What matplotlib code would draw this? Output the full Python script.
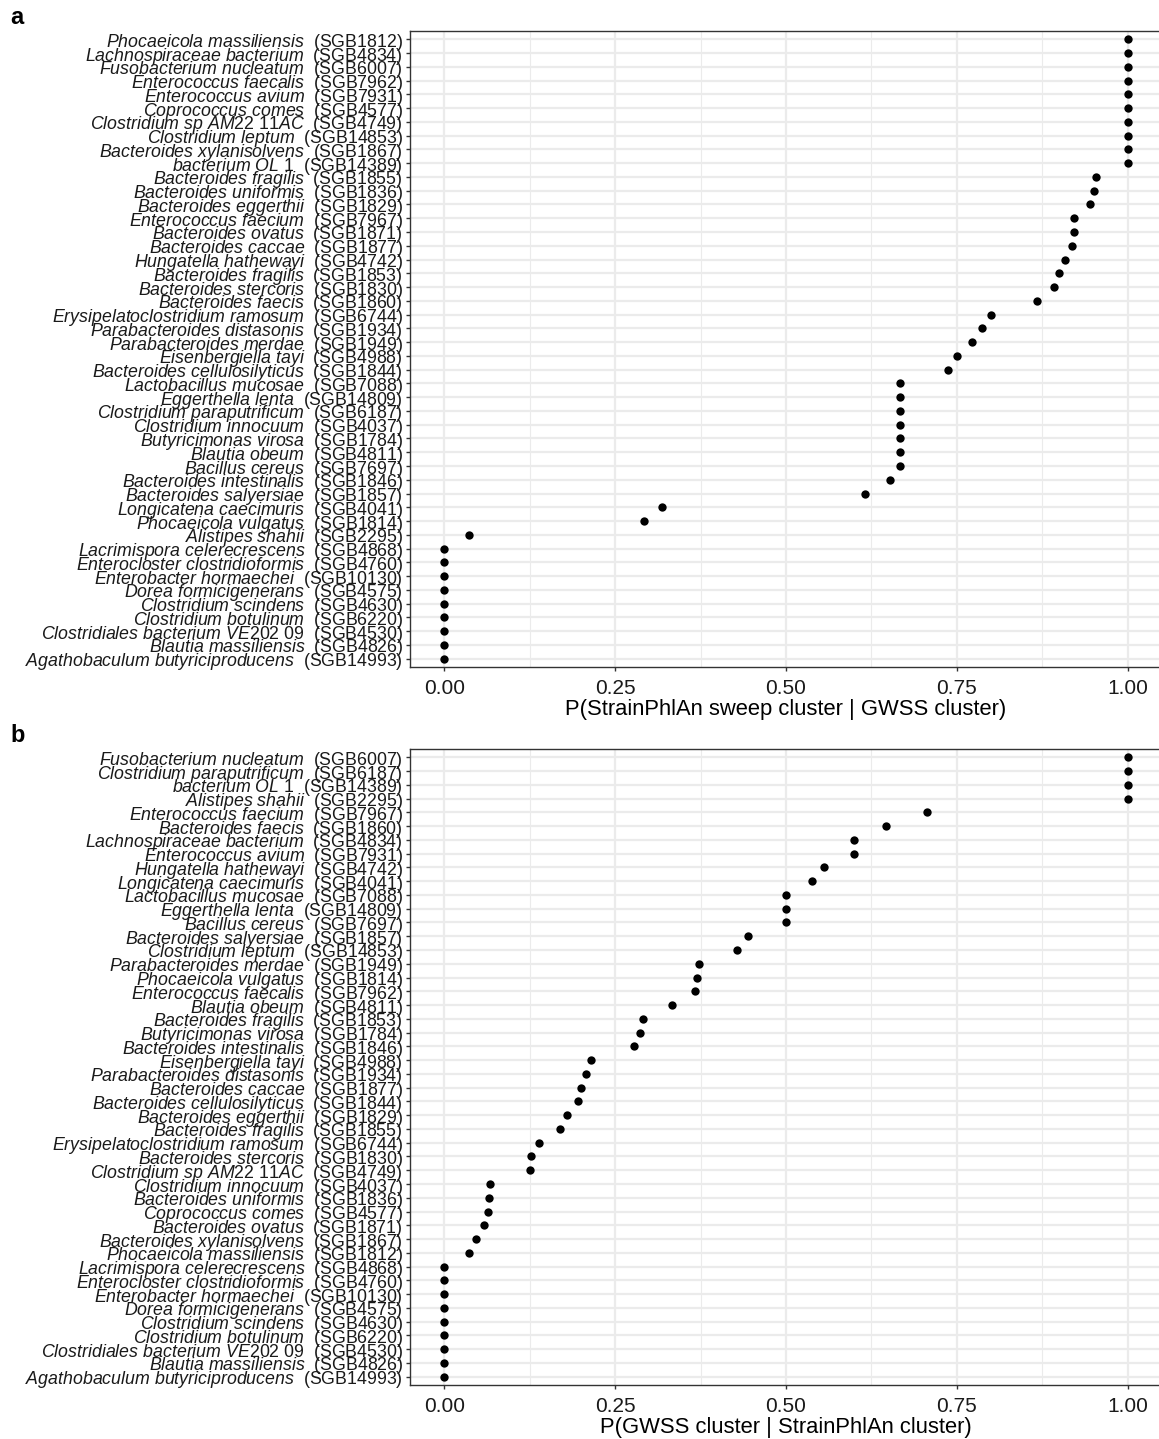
import matplotlib.pyplot as plt
import matplotlib.font_manager as fm
import numpy as np

# panel a: P(StrainPhlAn sweep cluster | GWSS cluster)
species_a = [
    "Phocaeicola massiliensis", "Lachnospiraceae bacterium", "Fusobacterium nucleatum",
    "Enterococcus faecalis", "Enterococcus avium", "Coprococcus comes",
    "Clostridium sp AM22 11AC", "Clostridium leptum", "Bacteroides xylanisolvens",
    "bacterium OL 1", "Bacteroides fragilis", "Bacteroides uniformis",
    "Bacteroides eggerthii", "Enterococcus faecium", "Bacteroides ovatus",
    "Bacteroides caccae", "Hungatella hathewayi", "Bacteroides fragilis",
    "Bacteroides stercoris", "Bacteroides faecis", "Erysipelatoclostridium ramosum",
    "Parabacteroides distasonis", "Parabacteroides merdae", "Eisenbergiella tayi",
    "Bacteroides cellulosilyticus", "Lactobacillus mucosae", "Eggerthella lenta",
    "Clostridium paraputrificum", "Clostridium innocuum", "Butyricimonas virosa",
    "Blautia obeum", "Bacillus cereus", "Bacteroides intestinalis",
    "Bacteroides salyersiae", "Longicatena caecimuris", "Phocaeicola vulgatus",
    "Alistipes shahii", "Lacrimispora celerecrescens", "Enterocloster clostridioformis",
    "Enterobacter hormaechei", "Dorea formicigenerans", "Clostridium scindens",
    "Clostridium botulinum", "Clostridiales bacterium VE202 09", "Blautia massiliensis",
    "Agathobaculum butyriciproducens",
]
sgb_a = [
    "SGB1812", "SGB4834", "SGB6007", "SGB7962", "SGB7931", "SGB4577", "SGB4749",
    "SGB14853", "SGB1867", "SGB14389", "SGB1855", "SGB1836", "SGB1829", "SGB7967",
    "SGB1871", "SGB1877", "SGB4742", "SGB1853", "SGB1830", "SGB1860", "SGB6744",
    "SGB1934", "SGB1949", "SGB4988", "SGB1844", "SGB7088", "SGB14809", "SGB6187",
    "SGB4037", "SGB1784", "SGB4811", "SGB7697", "SGB1846", "SGB1857", "SGB4041",
    "SGB1814", "SGB2295", "SGB4868", "SGB4760", "SGB10130", "SGB4575", "SGB4630",
    "SGB6220", "SGB4530", "SGB4826", "SGB14993",
]
vals_a = [
    1, 1, 1, 1, 1, 1, 1, 1, 1, 1,
    0.953, 0.950, 0.944, 0.922, 0.922, 0.918, 0.908, 0.899, 0.892, 0.867,
    0.800, 0.786, 0.772, 0.750, 0.737,
    0.667, 0.667, 0.667, 0.667, 0.667, 0.667, 0.667,
    0.652, 0.615, 0.319, 0.292, 0.037,
    0, 0, 0, 0, 0, 0, 0, 0, 0,
]

# panel b: P(GWSS cluster | StrainPhlAn cluster)
species_b = [
    "Fusobacterium nucleatum", "Clostridium paraputrificum", "bacterium OL 1",
    "Alistipes shahii", "Enterococcus faecium", "Bacteroides faecis",
    "Lachnospiraceae bacterium", "Enterococcus avium", "Hungatella hathewayi",
    "Longicatena caecimuris", "Lactobacillus mucosae", "Eggerthella lenta",
    "Bacillus cereus", "Bacteroides salyersiae", "Clostridium leptum",
    "Parabacteroides merdae", "Phocaeicola vulgatus", "Enterococcus faecalis",
    "Blautia obeum", "Bacteroides fragilis", "Butyricimonas virosa",
    "Bacteroides intestinalis", "Eisenbergiella tayi", "Parabacteroides distasonis",
    "Bacteroides caccae", "Bacteroides cellulosilyticus", "Bacteroides eggerthii",
    "Bacteroides fragilis", "Erysipelatoclostridium ramosum", "Bacteroides stercoris",
    "Clostridium sp AM22 11AC", "Clostridium innocuum", "Bacteroides uniformis",
    "Coprococcus comes", "Bacteroides ovatus", "Bacteroides xylanisolvens",
    "Phocaeicola massiliensis", "Lacrimispora celerecrescens",
    "Enterocloster clostridioformis", "Enterobacter hormaechei", "Dorea formicigenerans",
    "Clostridium scindens", "Clostridium botulinum", "Clostridiales bacterium VE202 09",
    "Blautia massiliensis", "Agathobaculum butyriciproducens",
]
sgb_b = [
    "SGB6007", "SGB6187", "SGB14389", "SGB2295", "SGB7967", "SGB1860", "SGB4834",
    "SGB7931", "SGB4742", "SGB4041", "SGB7088", "SGB14809", "SGB7697", "SGB1857",
    "SGB14853", "SGB1949", "SGB1814", "SGB7962", "SGB4811", "SGB1853", "SGB1784",
    "SGB1846", "SGB4988", "SGB1934", "SGB1877", "SGB1844", "SGB1829", "SGB1855",
    "SGB6744", "SGB1830", "SGB4749", "SGB4037", "SGB1836", "SGB4577", "SGB1871",
    "SGB1867", "SGB1812", "SGB4868", "SGB4760", "SGB10130", "SGB4575", "SGB4630",
    "SGB6220", "SGB4530", "SGB4826", "SGB14993",
]
vals_b = [
    1, 1, 1, 1, 0.706, 0.647, 0.6, 0.6, 0.556, 0.538,
    0.5, 0.5, 0.5, 0.444, 0.429, 0.373, 0.370, 0.367, 0.333,
    0.291, 0.286, 0.278, 0.215, 0.208, 0.200, 0.196, 0.180, 0.170,
    0.139, 0.127, 0.125, 0.067, 0.066, 0.064, 0.058, 0.047, 0.037,
    0, 0, 0, 0, 0, 0, 0, 0, 0,
]

names = {f.name for f in fm.fontManager.ttflist}
base = "Liberation Sans Narrow" if "Liberation Sans Narrow" in names else "Liberation Sans"
plt.rcParams["font.family"] = base
plt.rcParams["mathtext.fontset"] = "custom"
plt.rcParams["mathtext.it"] = base + ":italic"
plt.rcParams["mathtext.rm"] = base

W, H = 1159, 1439
fig = plt.figure(figsize=(W / 100, H / 100), dpi=100)


def make_label(sp, sgb):
    return r"$\mathit{" + sp.replace(" ", r"\ ") + "}$  (" + sgb + ")"


def panel(top, bottom, species, sgb, vals, xlabel, letter):
    # the right border sits just outside the saved image, as in the reference
    left, right = 410, 1162
    ax = fig.add_axes([left / W, 1 - bottom / H, (right - left) / W, (bottom - top) / H])
    n = len(vals)
    y = np.arange(n)[::-1]
    ax.scatter(vals, y, s=36, color="black", zorder=3, linewidths=0)
    ax.set_xlim(-0.05, 1.05)
    ax.set_ylim(-0.6, n - 1 + 0.6)
    ax.set_yticks(y)
    ax.set_yticklabels([make_label(s, g) for s, g in zip(species, sgb)], fontsize=12.8,
                       color="#1a1a1a")
    ax.set_xticks([0, 0.25, 0.5, 0.75, 1.0])
    ax.set_xticklabels(["0.00", "0.25", "0.50", "0.75", "1.00"], fontsize=15, color="#1a1a1a")
    ax.set_xticks([0.125, 0.375, 0.625, 0.875], minor=True)
    ax.grid(True, which="major", color="#EBEBEB", linewidth=1.6)
    ax.grid(True, which="minor", axis="x", color="#EBEBEB", linewidth=0.8)
    ax.set_axisbelow(True)
    ax.tick_params(which="major", length=3, width=1, color="#333333", pad=2)
    ax.tick_params(axis="x", which="major", pad=6)
    ax.tick_params(which="minor", length=0)
    for sp in ax.spines.values():
        sp.set_color("#333333")
        sp.set_linewidth(1.0)
    ax.set_xlabel(xlabel, fontsize=15.8, color="black", labelpad=0)
    fig.text(10 / W, 1 - (top - 13) / H, letter, fontsize=17, fontweight="bold",
             va="center", ha="left")
    return ax


panel(31, 667, species_a, sgb_a, vals_a, "P(StrainPhlAn sweep cluster | GWSS cluster)", "a")
panel(749, 1385, species_b, sgb_b, vals_b, "P(GWSS cluster | StrainPhlAn cluster)", "b")

fig.savefig("out.png", dpi=100)
